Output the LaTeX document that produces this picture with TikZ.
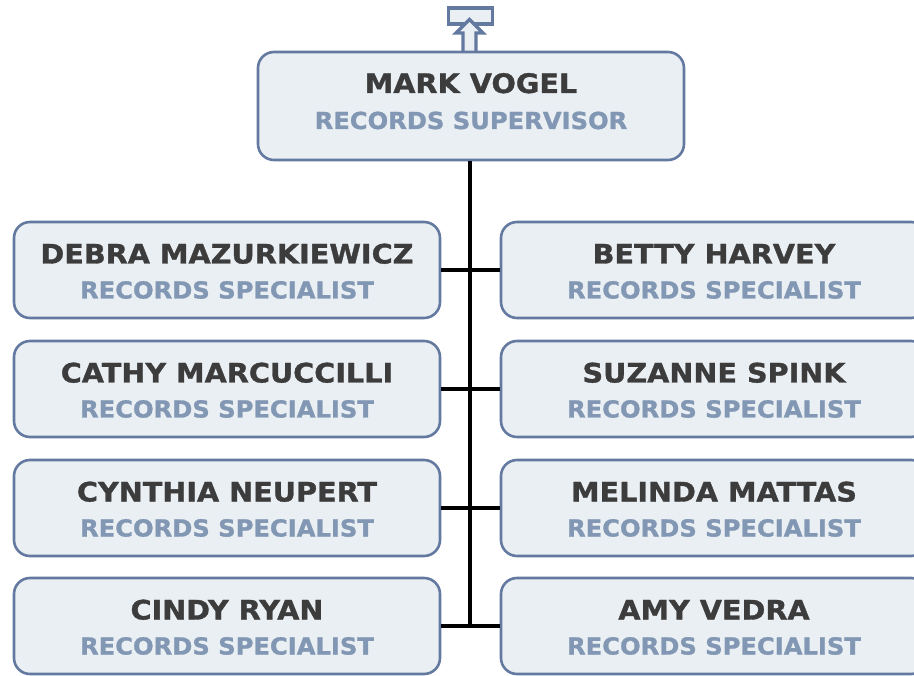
\documentclass[tikz,border=0pt]{standalone}
\usepackage{fontspec}
\setmainfont{DejaVu Sans}
\newfontfamily\namefont[FakeStretch=1.07,BoldFeatures={FakeBold=1.2}]{DejaVu Sans}
\newfontfamily\rolefont[FakeStretch=1.035,BoldFeatures={FakeBold=1.2}]{DejaVu Sans}
\definecolor{boxfill}{HTML}{EAEFF3}
\definecolor{boxline}{HTML}{6379A0}
\definecolor{namecol}{HTML}{3C3C3C}
\definecolor{rolecol}{HTML}{8197B3}
\tikzset{
  person/.style={draw=boxline, fill=boxfill, line width=2.6pt, rounded corners=16pt, minimum width=426pt, minimum height=96pt, inner sep=0pt},
  boss/.style={person, minimum height=108pt},
  nametext/.style={anchor=base, text=namecol, font=\namefont\bfseries\fontsize{26.8}{27}\selectfont, inner sep=0pt},
  roletext/.style={anchor=base, text=rolecol, font=\rolefont\bfseries\fontsize{23.4}{23.5}\selectfont, inner sep=0pt},
  conn/.style={line width=3.6pt, black},
}
\begin{document}
\begin{tikzpicture}[x=1pt,y=-1pt]
\useasboundingbox (0,0) rectangle (914,676);
% top icon
\node[draw=boxline, fill=boxfill, line width=3.2pt, minimum width=44pt, minimum height=16pt, inner sep=0pt] (icon) at (470.5,16) {};
\draw[draw=boxline, fill=boxfill, line width=3.2pt, line join=miter]
  (463,52) -- (463,33) -- (456,33) -- (469.5,19.5) -- (483,33) -- (476,33) -- (476,52);
% boss
\node[boss] (boss) at (471,106) {};
\node[nametext] (bossn) at (471,93) {MARK VOGEL};
\node[roletext] (bossr) at (471,129) {RECORDS SUPERVISOR};
% rows
\foreach \i/\y/\ln/\rn in {1/270/DEBRA MAZURKIEWICZ/BETTY HARVEY,2/389/CATHY MARCUCCILLI/SUZANNE SPINK,3/508/CYNTHIA NEUPERT/MELINDA MATTAS,4/626/CINDY RYAN/AMY VEDRA}{
  \node[person] (L\i) at (227,\y) {};
  \node[nametext] (L\i n) at (227,\y-6.5) {\ln};
  \node[roletext] (L\i r) at (227,\y+28.5) {RECORDS SPECIALIST};
  \node[person] (R\i) at (714,\y) {};
  \node[nametext] (R\i n) at (714,\y-6.5) {\rn};
  \node[roletext] (R\i r) at (714,\y+28.5) {RECORDS SPECIALIST};
}
\coordinate (spineend) at (470,627.5);
\draw[conn] (boss.south -| spineend) -- (spineend);
\foreach \i in {1,...,4}{
  \draw[conn] (L\i.east) -- (R\i.west);
}
\end{tikzpicture}
\end{document}
